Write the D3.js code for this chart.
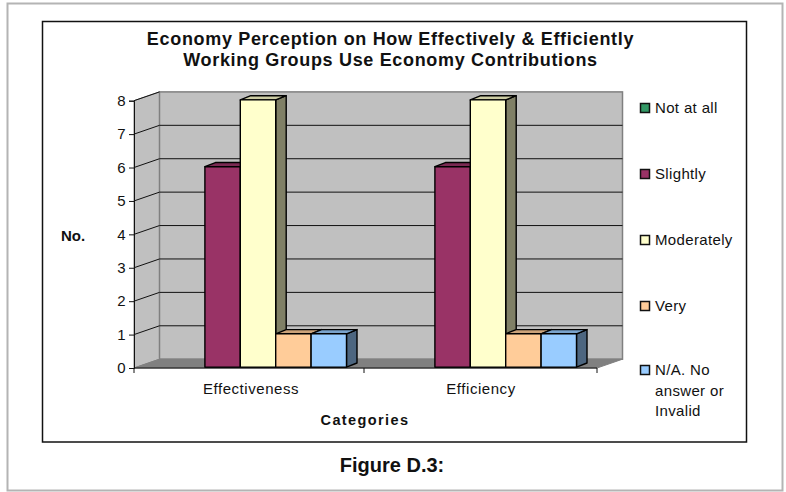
<!DOCTYPE html>
<html><head><meta charset="utf-8">
<script src="https://cdnjs.cloudflare.com/ajax/libs/d3/7.8.5/d3.min.js"></script>
<style>html,body{margin:0;padding:0;background:#fff}svg{display:block}text{font-family:"Liberation Sans",Arial,sans-serif;fill:#111}</style>
</head><body><svg id="c" width="786" height="492"></svg>
<script>
const categories = ["Effectiveness", "Efficiency"];
const seriesNames = ["Not at all", "Slightly", "Moderately", "Very", "N/A. No answer or Invalid"];
const notAtAll = [0, 0];
const slightly = [6, 6];
const moderately = [8, 8];
const very = [1, 1];
const naInvalid = [1, 1];
const seriesValues = [notAtAll, slightly, moderately, very, naInvalid];
const yTicks = [0, 1, 2, 3, 4, 5, 6, 7, 8];
const titleLines = ["Economy Perception on How Effectively & Efficiently", "Working Groups Use Economy Contributions"];
const legendLines = [["Not at all"], ["Slightly"], ["Moderately"], ["Very"], ["N/A. No", "answer or", "Invalid"]];
const fronts = ["#339966", "#993366", "#FFFFCC", "#FFCC99", "#99CCFF"];
const tops = ["#297a52", "#7a2952", "#CCCCA3", "#CCA37A", "#7AA3CC"];
const sides = ["#1f5c3d", "#5c1f3d", "#808066", "#80664D", "#4D6680"];

const svg = d3.select("#c");
const rect = (x, y, w, h, fill, stroke, sw) => svg.append("rect").attr("x", x).attr("y", y).attr("width", w).attr("height", h).attr("fill", fill).attr("stroke", stroke).attr("stroke-width", sw);
rect(7.5, 3.5, 775, 487, "#fff", "#b4b4b4", 2);
rect(42.5, 21.5, 704, 420.5, "#fff", "#111", 1.5);

const x0 = 134, x1 = 597, dx = 25.5, dy = -8.8;
const y = d3.scaleLinear().domain([0, 8]).range([368, 100.7]);
const xCat = d3.scaleBand().domain(categories).range([x0, x0 + 460]);
const xSer = d3.scaleBand().domain(d3.range(seriesNames.length)).range([0, 177]);
const groupOffset = 35.5;
const poly = pts => pts.map(p => p.join(",")).join(" ");

// walls
svg.append("polygon").attr("points", poly([[x0, y(0)], [x0 + dx, y(0) + dy], [x0 + dx, y(8) + dy], [x0, y(8)]])).attr("fill", "#C0C0C0").attr("stroke", "#808080");
svg.append("rect").attr("x", x0 + dx).attr("y", y(8) + dy).attr("width", x1 - x0).attr("height", y(0) - y(8)).attr("fill", "#C0C0C0").attr("stroke", "#808080").attr("stroke-width", 1.5);
svg.append("polygon").attr("points", poly([[x0, y(0)], [x0 + dx, y(0) + dy], [x1 + dx, y(0) + dy], [x1, y(0)]])).attr("fill", "#808080").attr("stroke", "#808080");

// gridlines
const grid = svg.append("g").attr("fill", "none").attr("stroke", "#111").attr("stroke-width", 1);
yTicks.filter(t => t > 0 && t < 8).forEach(t => {
  grid.append("polyline").attr("points", poly([[x0, y(t)], [x0 + dx, y(t) + dy], [x1 + dx, y(t) + dy]]));
});
grid.append("polyline").attr("points", poly([[x0, y(8)], [x0 + dx, y(8) + dy]]));

// bars
const bars = svg.append("g").attr("stroke", "#000").attr("stroke-width", 1.4).attr("stroke-linejoin", "round");
const bx = 10.5, by = -4.2, base = 367.2;
const scaleBar = v => base - (y(0) - y(v));
categories.forEach((c, ci) => {
  seriesValues.forEach((vals, si) => {
    const v = vals[ci];
    if (v <= 0) return;
    const l = xCat(c) + groupOffset + xSer(si), r = l + xSer.bandwidth(), t = scaleBar(v);
    bars.append("polygon").attr("fill", sides[si]).attr("points", poly([[r, t], [r + bx, t + by], [r + bx, base + by], [r, base]]));
    bars.append("polygon").attr("fill", tops[si]).attr("points", poly([[l, t], [l + bx, t + by], [r + bx, t + by], [r, t]]));
    bars.append("rect").attr("fill", fronts[si]).attr("x", l).attr("y", t).attr("width", r - l).attr("height", base - t);
  });
});

// axes
const yAxis = d3.axisLeft(y).tickValues(yTicks).tickSize(5).tickFormat(d3.format("d"));
const gy = svg.append("g").attr("transform", `translate(${x0},0)`).call(yAxis);
gy.selectAll("text").attr("font-size", 15).attr("dx", "-0.5").style("font-family", '"Liberation Sans",Arial,sans-serif');
gy.selectAll("line,path").attr("stroke", "#111");

const xAxis = d3.axisBottom(xCat).tickSize(0).tickPadding(15);
const gx = svg.append("g").attr("transform", `translate(0,${y(0)})`).call(xAxis);
gx.selectAll("text").attr("font-size", 15).attr("letter-spacing", 0.55).style("font-family", '"Liberation Sans",Arial,sans-serif').attr("dx", 2);
gx.selectAll("path").attr("stroke", "none");
const edges = svg.append("g").attr("stroke", "#111");
edges.append("line").attr("x1", x0).attr("x2", x1).attr("y1", y(0)).attr("y2", y(0));
[x0, xCat(categories[1]), x1].forEach(px => edges.append("line").attr("x1", px).attr("x2", px).attr("y1", y(0)).attr("y2", y(0) + 5));

// titles
const label = (txt, px, py, size, weight, anchor, ls) => svg.append("text").attr("x", px).attr("y", py).attr("font-size", size).attr("font-weight", weight).attr("text-anchor", anchor).attr("letter-spacing", ls || 0).text(txt);
titleLines.forEach((t, i) => label(t, 390.5, 45 + i * 21, 18, "bold", "middle", 0.67));
label("No.", 73, 241, 15, "bold", "middle");
label("Categories", 365, 425, 14.5, "bold", "middle", 1.4);
label("Figure D.3:", 392, 472, 20, "bold", "middle");

// legend
const legendY = [108, 174, 240, 306, 370];
legendLines.forEach((lines, i) => {
  rect(640.5, legendY[i] - 4.5, 9, 9, fronts[i], "#111", 1.5);
  lines.forEach((t, j) => label(t, 655, legendY[i] + 5 + j * 20.5, 15, "normal", "start", 0.35));
});
</script></body></html>
